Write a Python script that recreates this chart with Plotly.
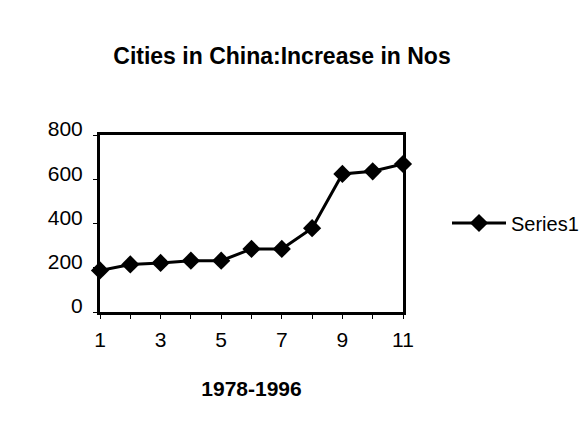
import plotly.graph_objects as go

# Period index (1 = 1978 ... 11 = 1996) and number of cities
periods = [1, 2, 3, 4, 5, 6, 7, 8, 9, 10, 11]
cities = [188, 215, 222, 232, 232, 285, 285, 379, 624, 636, 669]
series_name = "Series1"
title_text = "Cities in China:Increase in Nos"
x_title = "1978-1996"

FONT = "Arial, Liberation Sans, sans-serif"
W, H = 581, 448

fig = go.Figure()
fig.add_trace(go.Scatter(
    x=periods, y=cities, name=series_name, mode="lines+markers",
    line=dict(color="black", width=3),
    marker=dict(symbol="diamond", size=14, color="black"),
    cliponaxis=False,
    showlegend=True,
))

fig.update_layout(
    width=W, height=H,
    margin=dict(l=100, r=178, t=135, b=136, autoexpand=False),
    paper_bgcolor="white", plot_bgcolor="white",
    font=dict(family=FONT, color="black", size=20),
    title=dict(text="<b>" + title_text + "</b>", x=282 / W, xanchor="center",
               y=1 - 56 / H, yanchor="middle",
               font=dict(size=23, family=FONT, color="black")),
    showlegend=True,
    legend=dict(xref="container", x=447 / W, xanchor="left",
                yref="container", y=1 - 223 / H, yanchor="middle",
                font=dict(size=20, family=FONT), bgcolor="rgba(0,0,0,0)",
                itemwidth=54),
    xaxis=dict(
        range=[1, 11], tickmode="array", tickvals=[1, 3, 5, 7, 9, 11],
        showgrid=False, zeroline=False,
        showline=True, linecolor="black", linewidth=3, mirror=True,
        ticks="outside", ticklen=4, tickwidth=1, tickcolor="black",
        minor=dict(tickmode="array", tickvals=periods, ticks="outside",
                   ticklen=4, tickcolor="black"),
        ticklabelstandoff=3,
        tickfont=dict(size=21),
        title=dict(text="<b>" + x_title + "</b>", font=dict(size=21), standoff=32),
    ),
    yaxis=dict(
        range=[0, 800], dtick=200, showgrid=False, zeroline=False,
        showline=True, linecolor="black", linewidth=3, mirror=True,
        ticks="outside", ticklen=4, tickwidth=1, tickcolor="black",
        ticklabelstandoff=6, ticklabelshift=-6,
        tickfont=dict(size=21),
    ),
)

fig.write_html("out.html")
